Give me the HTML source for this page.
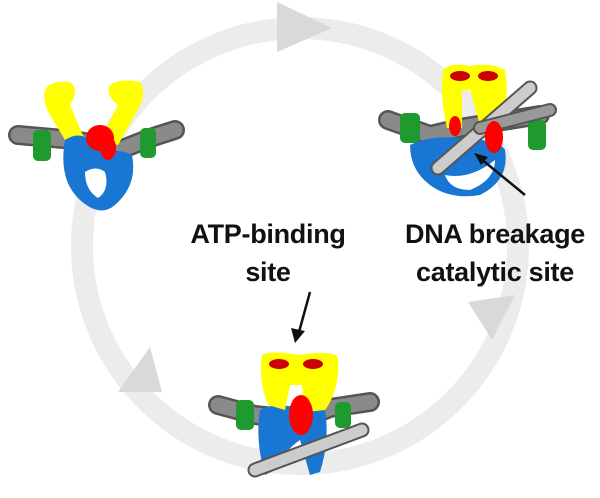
<!DOCTYPE html><html><head><style>body{margin:0;background:#fff}svg{display:block}</style></head><body>
<svg width="600" height="498" viewBox="0 0 600 498" xmlns="http://www.w3.org/2000/svg" font-family="Liberation Sans, sans-serif">
<circle cx="300" cy="246" r="218" fill="none" stroke="#ececec" stroke-width="22"/>
<polygon points="277,2 332,28 277,52" fill="#d9d9d9"/>
<polygon points="468,302 515,295 492,340" fill="#d9d9d9"/>
<polygon points="118,392 150,347 162,392" fill="#d9d9d9"/>
<g stroke-linejoin="round">
<g>
<path d="M18,135 L75,140 L120,150 L150,138 L175,130" stroke="#555" stroke-width="20" fill="none" stroke-linecap="round"/>
<path d="M18,135 L75,140 L120,150 L150,138 L175,130" stroke="#8a8a8a" stroke-width="15" fill="none" stroke-linecap="round"/>
<rect x="33" y="130" width="18" height="31" rx="5" fill="#1f9a2e"/>
<rect x="140" y="128" width="16" height="30" rx="5" fill="#1f9a2e"/>
<path d="M45,90 Q50,80 70,82 Q80,90 70,105 L85,140 L68,145 L50,115 Q42,100 45,90Z" fill="#ffff00"/>
<path d="M110,85 Q120,78 140,82 Q148,95 135,115 L118,145 L100,140 L118,105 Q105,95 110,85Z" fill="#ffff00"/>
<path d="M65,140 Q80,130 92,142 L100,150 Q125,150 132,155 Q138,185 115,205 Q100,218 80,200 Q58,180 65,140Z" fill="#1976d2"/>
<path d="M85,172 Q96,165 105,172 Q110,190 98,198 Q85,190 85,172Z" fill="#fff"/>
<ellipse cx="100" cy="138" rx="14" ry="13" fill="#ff0000"/>
<ellipse cx="108" cy="148" rx="8" ry="12" fill="#ff0000"/>
</g>
<g>
<path d="M388,120 L430,135 L460,128 L540,115" stroke="#555" stroke-width="20" fill="none" stroke-linecap="round"/>
<path d="M388,120 L430,135 L460,128 L540,115" stroke="#8a8a8a" stroke-width="15" fill="none" stroke-linecap="round"/>
<rect x="400" y="113" width="20" height="30" rx="5" fill="#1f9a2e"/>
<rect x="528" y="120" width="18" height="30" rx="5" fill="#1f9a2e"/>
<path d="M410,145 Q430,135 460,138 Q500,140 505,150 Q510,180 480,195 Q450,200 430,185 Q410,170 410,145Z" fill="#1976d2"/>
<path d="M445,175 Q470,180 495,160 Q495,180 470,190 Q450,190 445,175Z" fill="#fff"/>
<path d="M443,70 Q450,62 470,66 Q490,62 505,70 Q510,100 500,120 L480,125 L470,90 L462,90 L462,128 L447,128 Q440,100 443,70Z" fill="#ffff00"/>
<ellipse cx="460" cy="76" rx="10" ry="5" fill="#cc0000"/>
<ellipse cx="488" cy="76" rx="10" ry="5" fill="#cc0000"/>
<line x1="438" y1="168" x2="530" y2="88" stroke="#555" stroke-width="15" stroke-linecap="round"/>
<line x1="438" y1="168" x2="530" y2="88" stroke="#ccc" stroke-width="11" stroke-linecap="round"/>
<line x1="480" y1="128" x2="550" y2="110" stroke="#555" stroke-width="14" stroke-linecap="round"/>
<line x1="480" y1="128" x2="550" y2="110" stroke="#999" stroke-width="10" stroke-linecap="round"/>
<ellipse cx="494" cy="137" rx="9" ry="16" fill="#ff0000"/>
<ellipse cx="455" cy="126" rx="6" ry="10" fill="#ff0000"/>
<line x1="525" y1="195" x2="480" y2="158" stroke="#111" stroke-width="2.5"/>
<polygon points="474,153 488,157 481,165" fill="#111"/>
</g>
<g>
<path d="M218,405 L255,415 L300,420 L330,408 L370,402" stroke="#555" stroke-width="20" fill="none" stroke-linecap="round"/>
<path d="M218,405 L255,415 L300,420 L330,408 L370,402" stroke="#8a8a8a" stroke-width="15" fill="none" stroke-linecap="round"/>
<rect x="236" y="400" width="18" height="30" rx="5" fill="#1f9a2e"/>
<rect x="335" y="402" width="16" height="26" rx="5" fill="#1f9a2e"/>
<path d="M260,410 Q280,400 300,410 Q315,398 325,410 Q330,440 320,472 L310,475 L300,440 Q285,450 275,470 L265,475 Q255,440 260,410Z" fill="#1976d2"/>
<path d="M262,355 Q270,350 300,355 Q330,350 338,357 Q340,390 325,410 L305,412 L302,385 L290,385 L285,410 L268,405 Q258,380 262,355Z" fill="#ffff00"/>
<ellipse cx="279" cy="364" rx="10" ry="5" fill="#cc0000"/>
<ellipse cx="313" cy="364" rx="10" ry="5" fill="#cc0000"/>
<ellipse cx="301" cy="415" rx="12" ry="20" fill="#ff0000"/>
<line x1="255" y1="470" x2="362" y2="430" stroke="#555" stroke-width="15" stroke-linecap="round"/>
<line x1="255" y1="470" x2="362" y2="430" stroke="#ccc" stroke-width="11" stroke-linecap="round"/>
<line x1="310" y1="292" x2="299" y2="332" stroke="#111" stroke-width="2.5"/>
<polygon points="291,328 305,331 295,343" fill="#111"/>
</g>
</g>
<g font-weight="bold" font-size="27" fill="#111" text-anchor="middle" letter-spacing="-0.3">
<text x="268" y="243">ATP-binding</text>
<text x="268" y="281">site</text>
<text x="495" y="243">DNA breakage</text>
<text x="495" y="281">catalytic site</text>
</g>
</svg>
</body></html>
